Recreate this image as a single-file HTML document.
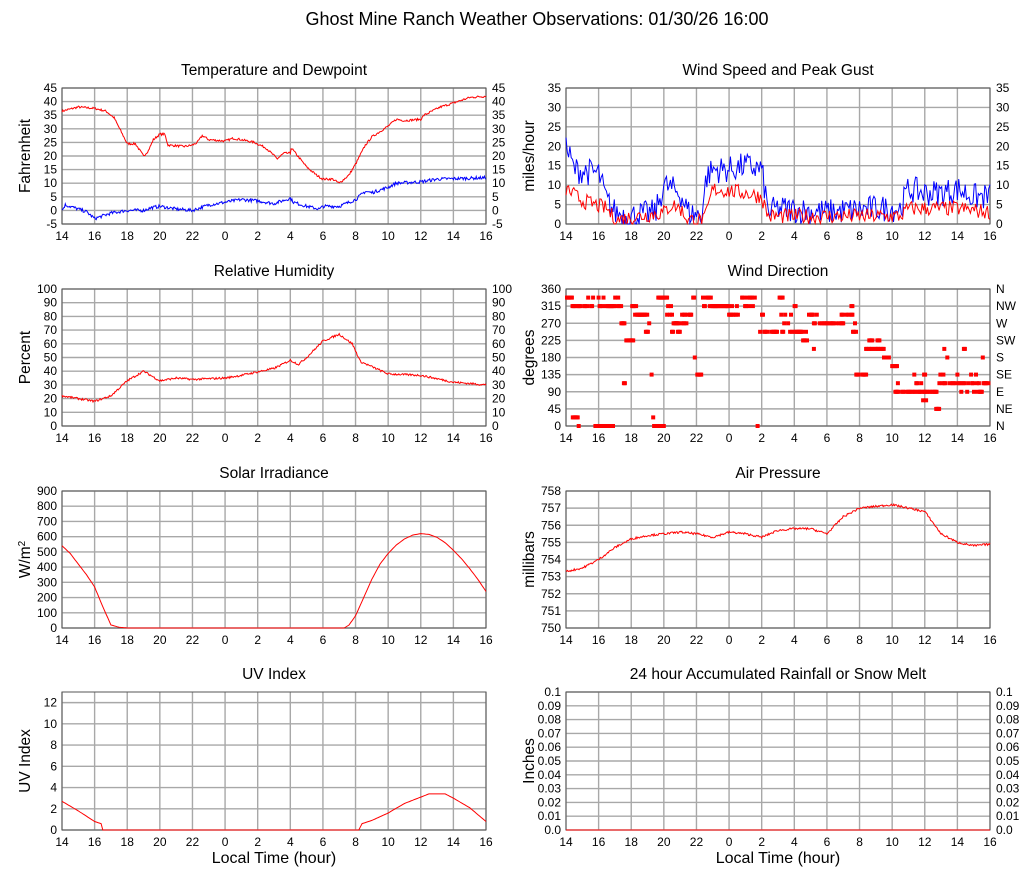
<!DOCTYPE html>
<html><head><meta charset="utf-8"><style>
body{margin:0;background:#fff;}
svg{display:block;font-family:"Liberation Sans",sans-serif;}
</style></head><body>
<svg id="s" width="1027" height="878" xmlns="http://www.w3.org/2000/svg"></svg>
<script>
var S=document.getElementById('s'),out='';
var seed=7;function rnd(){seed=(seed*16807)%2147483647;return seed/2147483647;}
function T(x,y,txt,sz,anc,extra){out+='<text x="'+x+'" y="'+y+'" font-size="'+sz+'" text-anchor="'+(anc||'start')+'" '+(extra||'')+'>'+txt+'</text>';}
function interp(k,t){for(var i=0;i<k.length-1;i++){if(t>=k[i][0]&&t<=k[i+1][0]){var a=k[i],b=k[i+1];if(b[0]==a[0])return b[1];return a[1]+(b[1]-a[1])*(t-a[0])/(b[0]-a[0]);}}return k[k.length-1][1];}
function panel(o){
 var x0=o.x,x1=o.x+424,y0=o.y,y1=o.y+o.h;
 T((x0+x1)/2,y0-13,o.title,15.5,'middle');
 var hrs=[14,16,18,20,22,0,2,4,6,8,10,12,14,16];
 for(var i=0;i<=13;i++){var x=x0+i*424/13;
  out+='<line x1="'+x+'" y1="'+y0+'" x2="'+x+'" y2="'+y1+'" stroke="#a8a8a8" stroke-width="1.4"/>';
  T(x,y1+16,hrs[i],12,'middle');}
 for(var j=0;j<o.ticks.length;j++){var v=o.ticks[j];var y=y1-(v-o.min)/(o.max-o.min)*o.h;
  out+='<line x1="'+x0+'" y1="'+y+'" x2="'+x1+'" y2="'+y+'" stroke="#a8a8a8" stroke-width="1.4"/>';
  T(x0-5,y+4,o.fmt?o.fmt(v):v,12,'end');
  if(o.right)T(x1+6,y+4,o.right(v,j),12,'start');}
 out+='<rect x="'+x0+'" y="'+y0+'" width="424" height="'+o.h+'" fill="none" stroke="#555" stroke-width="1"/>';
 var cx=x0-32,cy=(y0+y1)/2;
 out+='<text x="'+cx+'" y="'+cy+'" font-size="15.5" text-anchor="middle" transform="rotate(-90 '+cx+' '+cy+')">'+o.ylab+'</text>';
 if(o.xlab)T((x0+x1)/2,y1+33,'Local Time (hour)',16,'middle');
 var P=function(t,v){return [(x0+t/26*424).toFixed(1),(y1-(v-o.min)/(o.max-o.min)*o.h).toFixed(1)];};
 (o.series||[]).forEach(function(s){var pts=[];for(var t=0;t<=26.001;t+=s.dt||0.05){var v=interp(s.k,t)+(s.n?(rnd()-0.5)*s.n:0);if(s.clip!=null)v=Math.max(s.clip,v);var p=P(t,v);pts.push(p.join(','));}
  out+='<polyline points="'+pts.join(' ')+'" fill="none" stroke="'+s.c+'" stroke-width="1"/>';});
 if(o.scatter){o.scatter.forEach(function(d){var p=P(d[0],d[1]);out+='<rect x="'+(p[0]-2)+'" y="'+(p[1]-2)+'" width="4" height="4" fill="#f00"/>';});}
}
T(537,25,'Ghost Mine Ranch Weather Observations: 01/30/26 16:00',18,'middle');
function rng(a,b,s){var r=[];for(var v=a;v<=b+1e-9;v+=s)r.push(+v.toFixed(2));return r;}
panel({x:62,y:88,h:136,title:'Temperature and Dewpoint',ylab:'Fahrenheit',min:-5,max:45,ticks:rng(-5,45,5),right:function(v){return v;},
 series:[{c:'#f00',n:0.8,k:[[0,36.5],[1,38],[2,37.5],[2.7,36.5],[3.2,34],[4,24.5],[4.5,24.5],[5,20],[5.3,22],[5.6,26],[6,28],[6.3,28],[6.5,24],[7.5,23.5],[8,24],[8.3,25],[8.6,27.5],[9,26],[10,25.5],[10.5,26.5],[11,26],[11.8,25],[12.5,23],[13.2,19],[13.6,21],[14,21],[14.05,23],[15,16],[15.6,13],[16,11.5],[16.6,11.5],[17,10],[17.6,13],[18,17],[18.6,24],[19,27],[20,31],[20.5,33.5],[21,33],[22,33.5],[22.2,35],[23.2,38],[24,39.5],[25,41.5],[26,42]]},
 {c:'#00f',n:1.2,k:[[0,0],[0.2,2],[1,0.5],[1.5,-0.5],[2,-3],[3,-1],[4,0],[5,0],[5.5,1],[6,1.5],[7,0.5],[8,0],[9,2],[10,3],[11,4],[12,3.5],[13,2.5],[14,4.5],[14.2,3],[15,1.5],[15.8,0.5],[16,1.5],[17,1.5],[18,4],[18.6,7],[19,6.5],[20,8.5],[20.5,10],[22,10.5],[23,11.5],[26,12]]}]});
panel({x:566,y:88,h:136,title:'Wind Speed and Peak Gust',ylab:'miles/hour',min:0,max:35,ticks:rng(0,35,5),right:function(v){return v;},
 series:[{c:'#00f',n:7,dt:0.08,clip:0,k:[[0,20],[0.5,14],[2,13],[2.5,6],[3,3],[4,2],[5.5,3],[6,10],[7,8],[7.5,3],[8.3,2],[8.6,12],[9,14],[10,14],[11,15],[12,14],[12.4,3],[13,4],[16,3],[19,4],[20.5,4],[21,9],[22,8],[23,8],[24,9],[25,7],[26,7]]},
 {c:'#f00',n:4,dt:0.08,clip:0,k:[[0,9],[1,6],[2.5,4],[3,1],[6,3],[6.5,5],[7,4],[7.5,1],[8.5,1],[9,9],[11,8],[12,7],[12.4,2],[20.5,2],[21,4],[24,4],[26,3]]}]});
panel({x:62,y:289,h:137,title:'Relative Humidity',ylab:'Percent',min:0,max:100,ticks:rng(0,100,10),right:function(v){return v;},
 series:[{c:'#f00',n:1.5,k:[[0,22],[2,18],[3,22],[4,33],[5,40],[6,33],[7,35],[8,34],[10,35],[11,37],[13,42],[14,48],[14.5,45],[15,50],[16,62],[17,67],[17.8,60],[18.3,47],[20,38],[22,37],[24,32],[26,30]]}]});
var segs=[[0,0.4,[337.5]],[0.4,1.7,[315,315,315,337.5]],[0.3,0.8,[22.5,0]],[1.8,2.9,[0,0,0]],[2,3.4,[315,337.5,315]],[3.4,3.6,[270]],[3.55,3.7,[112.5]],[3.7,4.2,[225]],[4,4.5,[292.5,315]],[4.5,5,[292.5]],[4.9,5.1,[247.5]],[5.1,5.2,[270]],[5.25,5.3,[202.5,135]],[5.35,5.45,[22.5]],[5.4,6,[0,0]],[5.6,6.2,[337.5]],[6.2,6.5,[315,292.5]],[6.5,7,[247.5,270]],[6.6,7.4,[270]],[7,7.7,[292.5]],[7.5,7.9,[292.5,337.5]],[7.9,8,[180,225]],[8.05,8.3,[135]],[8.3,8.4,[157.5]],[8.4,9,[315,337.5]],[9,10,[315]],[10,10.6,[292.5,315]],[10.8,11.6,[315,337.5]],[11.75,11.85,[0]],[11.9,12.1,[292.5,247.5]],[12.1,13,[247.5]],[13.1,13.3,[337.5]],[13.2,14,[270,292.5,247.5]],[13.9,14.1,[315]],[14,14.8,[247.5,225]],[14.9,15.5,[270,292.5,247.5]],[15.2,15.3,[202.5]],[15.5,17,[270]],[16.9,17.6,[292.5]],[17.5,17.6,[315]],[17.6,17.8,[247.5,270]],[17.8,18.4,[135]],[18.4,19.5,[202.5]],[18.6,18.8,[225]],[19.1,19.3,[225]],[19.5,20,[180]],[20,20.3,[157.5]],[20.2,21,[90]],[20.35,20.4,[67.5,112.5]],[21,22,[90,112.5]],[21.3,21.5,[135]],[21.9,22.1,[135,67.5]],[22,22.8,[90]],[22.7,22.9,[45]],[22.9,23.3,[112.5,135]],[23.2,23.4,[180,202.5]],[23.4,25.5,[112.5,112.5,135,90]],[24.4,24.5,[202.5]],[25.5,25.6,[180]],[25.6,26,[112.5]]];
var wd=[];segs.forEach(function(s){for(var t=s[0];t<=s[1];t+=0.06){if(rnd()<0.3)continue;wd.push([t,s[2][Math.floor(rnd()*s[2].length)]]);}});
var dn=['N','NE','E','SE','S','SW','W','NW','N'];
panel({x:566,y:289,h:137,title:'Wind Direction',ylab:'degrees',min:0,max:360,ticks:rng(0,360,45),right:function(v,j){return dn[j];},scatter:wd});
panel({x:62,y:491,h:137,title:'Solar Irradiance',ylab:'W/m<tspan font-size="10" dy="-5">2</tspan>',min:0,max:900,ticks:rng(0,900,100),
 series:[{c:'#f00',n:0,dt:0.1,k:[[0,540],[0.5,490],[1,420],[1.5,350],[2,270],[2.5,140],[3,20],[3.5,5],[4,0],[17.3,0],[17.6,20],[18,80],[18.5,200],[19,320],[19.5,420],[20,490],[20.5,545],[21,585],[21.5,610],[22,620],[22.5,615],[23,595],[23.5,560],[24,510],[24.5,455],[25,390],[25.5,320],[26,240]]}]});
panel({x:566,y:491,h:137,title:'Air Pressure',ylab:'millibars',min:750,max:758,ticks:rng(750,758,1),
 series:[{c:'#f00',n:0.12,k:[[0,753.3],[1,753.5],[2,754],[3,754.7],[4,755.2],[5,755.4],[6,755.5],[7,755.6],[8,755.5],[9,755.3],[10,755.6],[11,755.5],[12,755.3],[13,755.7],[14,755.8],[15,755.8],[16,755.5],[17,756.5],[18,757],[19,757.1],[20,757.2],[21,757],[22,756.8],[23,755.5],[24,755],[25,754.8],[26,754.9]]}]});
panel({x:62,y:692,h:138,title:'UV Index',ylab:'UV Index',min:0,max:13,ticks:rng(0,12,2),xlab:1,
 series:[{c:'#f00',n:0,dt:0.1,k:[[0,2.7],[1,1.8],[2,0.8],[2.4,0.6],[2.5,0],[18.2,0],[18.4,0.6],[19,0.9],[20,1.6],[21,2.5],[22,3.1],[22.5,3.4],[23.5,3.4],[24,3],[25,2.1],[26,0.8]]}]});
panel({x:566,y:692,h:138,title:'24 hour Accumulated Rainfall or Snow Melt',ylab:'Inches',min:0,max:0.1,ticks:rng(0,0.1,0.01),xlab:1,fmt:function(v){return v==0?'0.0':(v==0.1?'0.1':v.toFixed(2));},right:function(v){return v==0?'0.0':(v==0.1?'0.1':v.toFixed(2));},
 series:[{c:'#f00',n:0,k:[[0,0],[26,0]]}]});
S.innerHTML=out;
</script>
</body></html>
